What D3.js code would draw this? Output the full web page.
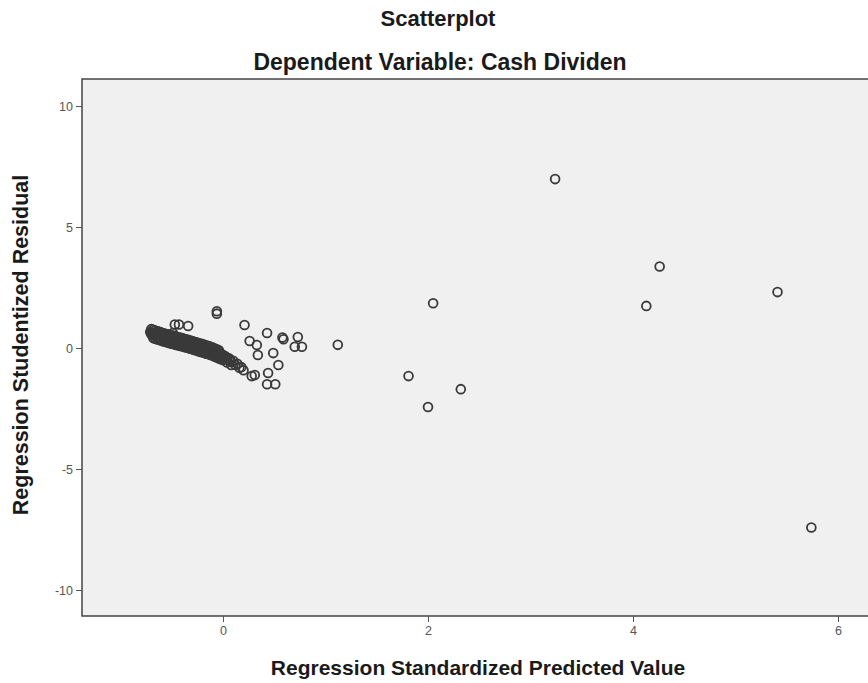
<!DOCTYPE html>
<html>

<head>
    <meta charset="UTF-8">
    <style>
        body {
            margin: 0;
            background: #ffffff;
        }

        .title {
            font-family: "Liberation Sans", Arial, sans-serif;
            font-weight: bold;
            fill: #1a1a1a;
        }

        .tick text {
            font-family: "Liberation Sans", Arial, sans-serif;
            font-size: 12.5px;
            fill: #555555;
        }

        .tick line {
            stroke: #555555;
        }

        .dot {
            fill: none;
            stroke: #3a3a3a;
            stroke-width: 1.8;
        }
    </style>
    <script src="https://d3js.org/d3.v7.min.js"></script>
    <title>Scatterplot</title>
</head>

<body>
    <svg id="framework" width="868" height="683"></svg>

    <script>
        // ejes
        var xTicks = [0, 2, 4, 6];
        var yTicks = [-10, -5, 0, 5, 10];

        // puntos sueltos (x = predicho estandarizado, y = residuo studentizado)
        var outliers = [
            [1.12, 0.13], [2.05, 1.85], [1.81, -1.16], [2.00, -2.44], [2.32, -1.70],
            [3.24, 6.98], [4.26, 3.37], [4.13, 1.74], [5.41, 2.31], [5.74, -7.42]
        ];

        // puntos alrededor de la nube
        var scattered = [
            [-0.06, 1.52], [-0.06, 1.42],
            [-0.47, 0.97], [-0.43, 0.97], [-0.34, 0.91], [-0.49, 0.62],
            [0.21, 0.95], [0.26, 0.29], [0.33, 0.12], [0.34, -0.29], [0.43, 0.62],
            [0.49, -0.21], [0.58, 0.43], [0.59, 0.36], [0.73, 0.45], [0.70, 0.05],
            [0.77, 0.05], [0.54, -0.70], [0.44, -1.03], [0.28, -1.16], [0.31, -1.12],
            [0.43, -1.50], [0.51, -1.50], [0.20, -0.92]
        ];

        // la banda densa
        var band = [
            [-0.71, 0.66], [-0.70, 0.57], [-0.69, 0.63], [-0.68, 0.54], [-0.67, 0.60], [-0.66, 0.51],
            [-0.65, 0.58], [-0.64, 0.48], [-0.63, 0.55], [-0.62, 0.46], [-0.61, 0.53], [-0.60, 0.43],
            [-0.59, 0.51], [-0.58, 0.40], [-0.57, 0.48], [-0.56, 0.37], [-0.55, 0.46], [-0.54, 0.35],
            [-0.53, 0.43], [-0.52, 0.32], [-0.51, 0.41], [-0.50, 0.30], [-0.49, 0.39], [-0.48, 0.28],
            [-0.47, 0.36], [-0.46, 0.25], [-0.45, 0.34], [-0.44, 0.23], [-0.43, 0.32], [-0.42, 0.21],
            [-0.41, 0.30], [-0.40, 0.19], [-0.39, 0.28], [-0.38, 0.16], [-0.37, 0.25], [-0.36, 0.14],
            [-0.35, 0.23], [-0.34, 0.12], [-0.33, 0.20], [-0.32, 0.09], [-0.31, 0.18], [-0.30, 0.07],
            [-0.29, 0.16], [-0.28, 0.04], [-0.27, 0.13], [-0.26, 0.02], [-0.25, 0.10], [-0.24, -0.01],
            [-0.23, 0.08], [-0.22, -0.04], [-0.21, 0.05], [-0.20, -0.06], [-0.19, 0.03], [-0.18, -0.09],
            [-0.17, 0.00], [-0.16, -0.12], [-0.15, -0.03], [-0.14, -0.14], [-0.13, -0.06], [-0.12, -0.17],
            [-0.11, -0.09], [-0.10, -0.20], [-0.09, -0.12], [-0.08, -0.24], [-0.07, -0.15], [-0.06, -0.27],
            [-0.05, -0.19], [-0.04, -0.31], [-0.03, -0.23], [-0.02, -0.34], [-0.01, -0.26], [0.00, -0.38],
            [0.02, -0.33], [0.04, -0.48], [0.06, -0.43], [0.08, -0.58], [0.10, -0.53], [0.12, -0.69],
            [0.14, -0.65], [0.16, -0.82], [0.18, -0.79],
            [-0.70, 0.62], [-0.66, 0.55], [-0.62, 0.50], [-0.58, 0.44], [-0.54, 0.40], [-0.50, 0.35],
            [-0.46, 0.30], [-0.42, 0.26], [-0.38, 0.21], [-0.34, 0.17], [-0.30, 0.12], [-0.26, 0.07],
            [-0.22, 0.01], [-0.18, -0.04], [-0.14, -0.09], [-0.10, -0.15], [-0.06, -0.22], [-0.02, -0.29],
            [0.03, -0.40], [0.07, -0.50],
            // borde superior de la banda
            [-0.70, 0.78], [-0.68, 0.75], [-0.66, 0.72], [-0.64, 0.69], [-0.62, 0.67], [-0.60, 0.64],
            [-0.58, 0.61], [-0.56, 0.59], [-0.54, 0.57], [-0.52, 0.54], [-0.50, 0.52], [-0.48, 0.50],
            [-0.46, 0.47], [-0.44, 0.45], [-0.42, 0.43], [-0.40, 0.41], [-0.38, 0.38], [-0.36, 0.36],
            [-0.34, 0.34], [-0.32, 0.31], [-0.30, 0.29], [-0.28, 0.26], [-0.26, 0.24], [-0.24, 0.21],
            [-0.22, 0.18], [-0.20, 0.16], [-0.18, 0.13], [-0.16, 0.10], [-0.14, 0.08], [-0.12, 0.05],
            [-0.10, 0.02], [-0.08, -0.02], [-0.06, -0.05], [-0.04, -0.09],
            // borde inferior de la banda
            [-0.68, 0.41], [-0.66, 0.38], [-0.64, 0.35], [-0.62, 0.33], [-0.60, 0.30], [-0.58, 0.27],
            [-0.56, 0.25], [-0.54, 0.23], [-0.52, 0.20], [-0.50, 0.18], [-0.48, 0.16], [-0.46, 0.13],
            [-0.44, 0.11], [-0.42, 0.09], [-0.40, 0.07], [-0.38, 0.04], [-0.36, 0.02], [-0.34, 0.00],
            [-0.32, -0.03], [-0.30, -0.05], [-0.28, -0.08], [-0.26, -0.10], [-0.24, -0.13], [-0.22, -0.16],
            [-0.20, -0.18], [-0.18, -0.21], [-0.16, -0.24], [-0.14, -0.26], [-0.12, -0.29], [-0.10, -0.32],
            [-0.08, -0.36], [-0.06, -0.39], [-0.04, -0.43], [-0.02, -0.46], [0.00, -0.50], [0.04, -0.60],
            [0.08, -0.70]
        ];

        var svg = d3.select("svg");

        var plotLeft = 82,
            plotTop = 79,
            plotRight = 880,
            plotBottom = 616;

        var x = d3.scaleLinear().domain([-1.3756, 6.2927]).range([plotLeft, 868]);
        var y = d3.scaleLinear().domain([-11.074, 11.116]).range([plotBottom, plotTop]);

        // fondo del gráfico
        svg.append("rect")
            .attr("x", plotLeft)
            .attr("y", plotTop)
            .attr("width", plotRight - plotLeft)
            .attr("height", plotBottom - plotTop)
            .attr("fill", "#f0f0f0")
            .attr("stroke", "#444444")
            .attr("stroke-width", 1.5);

        svg.append("g")
            .attr("transform", "translate(0," + plotBottom + ")")
            .call(d3.axisBottom(x).tickValues(xTicks).tickSize(6).tickPadding(4)
                .tickFormat(function(d) { return String(d); }))
            .call(function(g) { g.select(".domain").remove(); });

        svg.append("g")
            .attr("transform", "translate(" + plotLeft + ",0)")
            .call(d3.axisLeft(y).tickValues(yTicks).tickSize(6).tickPadding(3)
                .tickFormat(function(d) { return String(d); }))
            .call(function(g) { g.select(".domain").remove(); });

        var points = band.concat(scattered, outliers);

        svg.append("g")
            .selectAll(".dot")
            .data(points)
            .enter()
            .append("circle")
            .attr("class", "dot")
            .attr("cx", function(d) { return x(d[0]); })
            .attr("cy", function(d) { return y(d[1]); })
            .attr("r", 4.4);

        // títulos
        svg.append("text")
            .attr("class", "title")
            .attr("x", 438).attr("y", 26)
            .attr("text-anchor", "middle")
            .attr("font-size", "22px")
            .text("Scatterplot");

        svg.append("text")
            .attr("class", "title")
            .attr("x", 440).attr("y", 70)
            .attr("text-anchor", "middle")
            .attr("font-size", "23px")
            .text("Dependent Variable: Cash Dividen");

        svg.append("text")
            .attr("class", "title")
            .attr("x", 478).attr("y", 675)
            .attr("text-anchor", "middle")
            .attr("font-size", "21px")
            .text("Regression Standardized Predicted Value");

        svg.append("text")
            .attr("class", "title")
            .attr("transform", "translate(28,345) rotate(-90)")
            .attr("text-anchor", "middle")
            .attr("font-size", "21.5px")
            .text("Regression Studentized Residual");
    </script>
</body>

</html>
